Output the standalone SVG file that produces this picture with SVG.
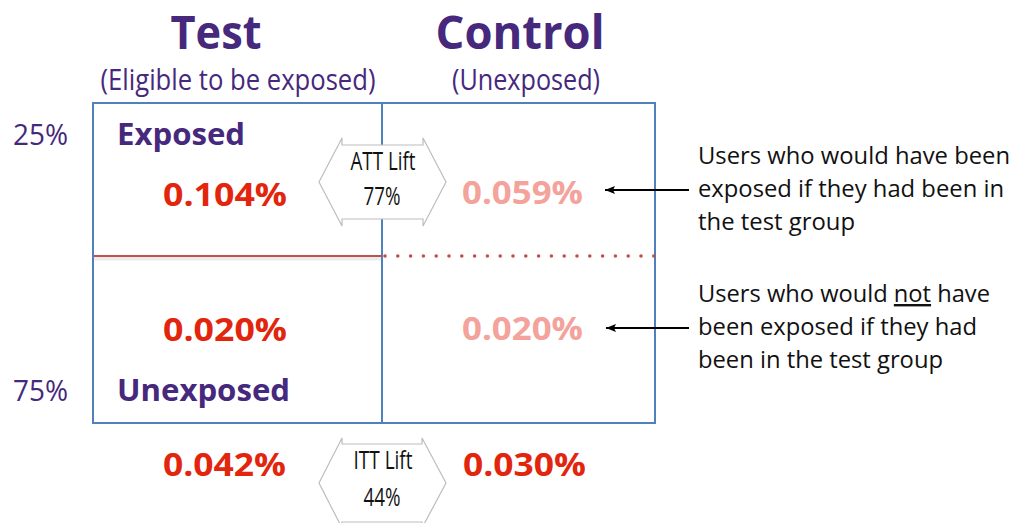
<svg xmlns="http://www.w3.org/2000/svg" width="1013" height="523" viewBox="0 0 1013 523">
<defs>
<marker id="ah" viewBox="0 0 10 8" refX="10" refY="4" markerWidth="10" markerHeight="8" markerUnits="userSpaceOnUse" orient="auto">
<path d="M0,0 L10,4 L0,8 L2,4 Z" fill="#000"/>
</marker>
</defs>
<style>
text{font-family:"Open Sans","Noto Sans","Liberation Sans",sans-serif}
.title{font-size:47px;font-weight:700;fill:#46287d;text-anchor:middle}
.sub{font-size:29px;fill:#46287d;text-anchor:middle}
.pct{font-size:30px;fill:#46287d}
.row{font-size:31px;font-weight:700;fill:#46287d}
.num{font-size:33px;font-weight:700;fill:#e2260e}
.numc{font-size:33px;font-weight:700;fill:#f3a39b}
.lift{font-size:25px;fill:#111;text-anchor:middle}
.note{font-size:24px;fill:#111}
.hex{fill:#fff;stroke:#bdbdbd;stroke-width:1.2}
.box{fill:none;stroke:#4f81bd;stroke-width:2}
.arr{stroke:#000;stroke-width:2;fill:none}
</style>
<rect width="1013" height="523" fill="#fff"/>
<g id="headers">
<text class="title" x="216" y="49" textLength="91" lengthAdjust="spacingAndGlyphs">Test</text>
<text class="title" x="520" y="49" textLength="169" lengthAdjust="spacingAndGlyphs">Control</text>
<text class="sub" x="238" y="90" textLength="275" lengthAdjust="spacingAndGlyphs">(Eligible to be exposed)</text>
<text class="sub" x="526" y="90" textLength="148" lengthAdjust="spacingAndGlyphs">(Unexposed)</text>
</g>
<g id="grid">
<line x1="93" y1="256" x2="382" y2="256" stroke="#000" stroke-opacity="0.08" stroke-width="5" transform="translate(0,2)"/>
<rect class="box" x="93" y="103" width="562" height="320"/>
<line x1="382" y1="103" x2="382" y2="423" stroke="#4f81bd" stroke-width="2"/>
<line x1="94" y1="256" x2="382" y2="256" stroke="#c0504d" stroke-width="2"/>
<line x1="385" y1="256" x2="654" y2="256" stroke="#c0504d" stroke-width="3.6" stroke-linecap="round" stroke-dasharray="0 12.8"/>
</g>
<g id="side-labels">
<text class="pct" x="13" y="145" textLength="55" lengthAdjust="spacingAndGlyphs">25%</text>
<text class="pct" x="13" y="401" textLength="55" lengthAdjust="spacingAndGlyphs">75%</text>
</g>
<g id="row-labels">
<text class="row" x="117" y="145" textLength="128" lengthAdjust="spacingAndGlyphs">Exposed</text>
<text class="row" x="117" y="401" textLength="173" lengthAdjust="spacingAndGlyphs">Unexposed</text>
</g>
<g id="test-exposed"><text class="num" x="163" y="206" textLength="124" lengthAdjust="spacingAndGlyphs">0.104%</text></g>
<g id="control-exposed"><text class="numc" x="462" y="204" textLength="121" lengthAdjust="spacingAndGlyphs">0.059%</text></g>
<g id="test-unexposed"><text class="num" x="163" y="341" textLength="124" lengthAdjust="spacingAndGlyphs">0.020%</text></g>
<g id="control-unexposed"><text class="numc" x="462" y="340" textLength="121" lengthAdjust="spacingAndGlyphs">0.020%</text></g>
<g id="test-total"><text class="num" x="163" y="476" textLength="123" lengthAdjust="spacingAndGlyphs">0.042%</text></g>
<g id="control-total"><text class="num" x="463" y="476" textLength="123" lengthAdjust="spacingAndGlyphs">0.030%</text></g>
<g id="att-lift">
<path class="hex" d="M319,182 L342,138 L342,145 L423,145 L423,138 L446,182 L423,226 L423,219 L342,219 L342,226 Z"/>
<text class="lift" x="383" y="170" textLength="65" lengthAdjust="spacingAndGlyphs">ATT Lift</text>
<text class="lift" x="382" y="205" textLength="37" lengthAdjust="spacingAndGlyphs">77%</text>
</g>
<g id="itt-lift">
<path class="hex" d="M319,483 L342,438 L342,444 L422,444 L422,438 L446,483 L422,528 L422,522 L342,522 L342,528 Z"/>
<text class="lift" x="383" y="469" textLength="59" lengthAdjust="spacingAndGlyphs">ITT Lift</text>
<text class="lift" x="382" y="506" textLength="37" lengthAdjust="spacingAndGlyphs">44%</text>
</g>
<g id="note-exposed">
<text class="note" x="698" y="164" textLength="312" lengthAdjust="spacingAndGlyphs">Users who would have been</text>
<text class="note" x="698" y="197" textLength="306" lengthAdjust="spacingAndGlyphs">exposed if they had been in</text>
<text class="note" x="698" y="230" textLength="157" lengthAdjust="spacingAndGlyphs">the test group</text>
</g>
<g id="note-unexposed">
<text class="note" x="698" y="302" textLength="292" lengthAdjust="spacingAndGlyphs">Users who would <tspan text-decoration="underline">not</tspan> have</text>
<text class="note" x="698" y="335" textLength="279" lengthAdjust="spacingAndGlyphs">been exposed if they had</text>
<text class="note" x="698" y="368" textLength="245" lengthAdjust="spacingAndGlyphs">been in the test group</text>
</g>
<g id="connectors">
<line class="arr" x1="689" y1="190" x2="605" y2="190" marker-end="url(#ah)"/>
<line class="arr" x1="689" y1="328" x2="606" y2="328" marker-end="url(#ah)"/>
</g>
</svg>
